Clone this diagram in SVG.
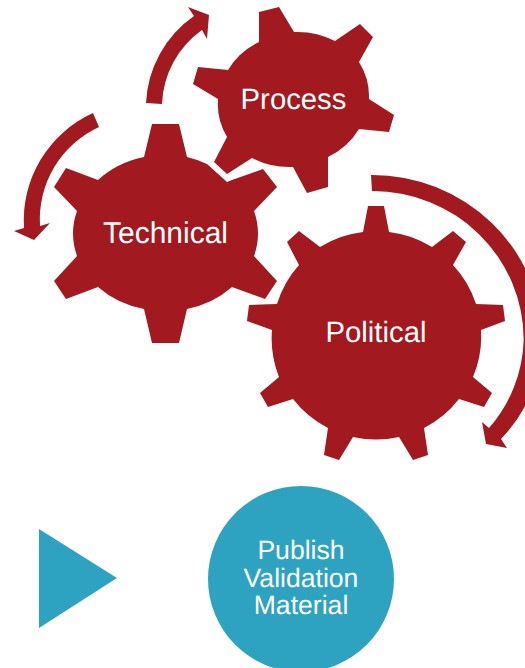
<svg xmlns="http://www.w3.org/2000/svg" width="525" height="668" viewBox="0 0 525 668">
<style>
.gear{fill:#a2191f}
.arrow{fill:#a2191f}
.blue{fill:#2da3c1}
text{font-family:"Liberation Sans",Arial,sans-serif;fill:#fff;text-anchor:middle;text-rendering:geometricPrecision}
.g{font-size:29.300px}
.p{font-size:26.6px}
</style>
<g id="connectors">
<path class="arrow" d="M146 103A112 112 0 0 1 194 16L188 7L209 15L207 39L202 30A95 95 0 0 0 162 104Z"/>
<path class="arrow" d="M93 113A118 118 0 0 0 24 228L14 231L34 240L50 223L40 226A102 102 0 0 1 99 127Z"/>
<path class="arrow" d="M371 175A170 165 0 0 1 542 340A145 145 0 0 1 501 439L507 448L486 444L482 422L489 428A140 140 0 0 0 523.700 340A151 149 0 0 0 372 191Z"/>
</g>
<g id="process">
<path class="gear" d="M259 12L279 7L294 32A75.5 69 0 0 1 335 41L360 24L373 37L359 62A75.5 69 0 0 1 369 99L394 115L389 132L359 129A75.5 69 0 0 1 328 157L328 187L307 193L293 167A75.500 69 0 0 1 252 158L227 174L214 162L227 137A75.5 69 0 0 1 218 99L193 84L198 67L228 70A75.5 69 0 0 1 259 42Z"/>
<text class="g" x="293.500" y="109">Process</text>
</g>
<g id="technical">
<path class="gear" d="M152 124L179 124L187 157A92 78 0 0 1 207 164L227 182L232 180L263 169L277 187L254 211A92 78 0 0 1 254 256L277 281L265 299L232 287A92 78 0 0 1 187 309L179 343L152 343L144 309A92 78 0 0 1 98 287L66 299L54 281L77 256A92 78 0 0 1 77 211L54 187L66 168L98 180A92 78 0 0 1 144 157Z"/>
<text class="g" x="165.500" y="243" style="font-size:30px">Technical</text>
</g>
<g id="political">
<path class="gear" d="M368 206L384 206L389 232A104 104 0 0 1 432 247L453 231L466 242L453 265A104 104 0 0 1 476 304L503 305L505 321L481 330A104 104 0 0 1 473 377L492 393L484 407L459 399A104 104 0 0 1 424 428L428 455L413 460L399 437A104 104 0 0 1 353 437L339 460L324 455L328 428A104 104 0 0 1 293 399L268 407L260 393L279 377A104 104 0 0 1 272 330L247 321L249 305L277 304A104 104 0 0 1 299 265L287 242L299 231L320 247A104 104 0 0 1 363 232Z"/>
<text class="g" x="376" y="342">Political</text>
</g>
<g id="triangle">
<polygon class="blue" points="39,529 117,578 39,628"/>
</g>
<g id="publish">
<circle class="blue" cx="301" cy="579" r="93"/>
<text class="p" x="301" y="559">Publish</text>
<text class="p" x="301" y="587">Validation</text>
<text class="p" x="301" y="614">Material</text>
</g>
</svg>
